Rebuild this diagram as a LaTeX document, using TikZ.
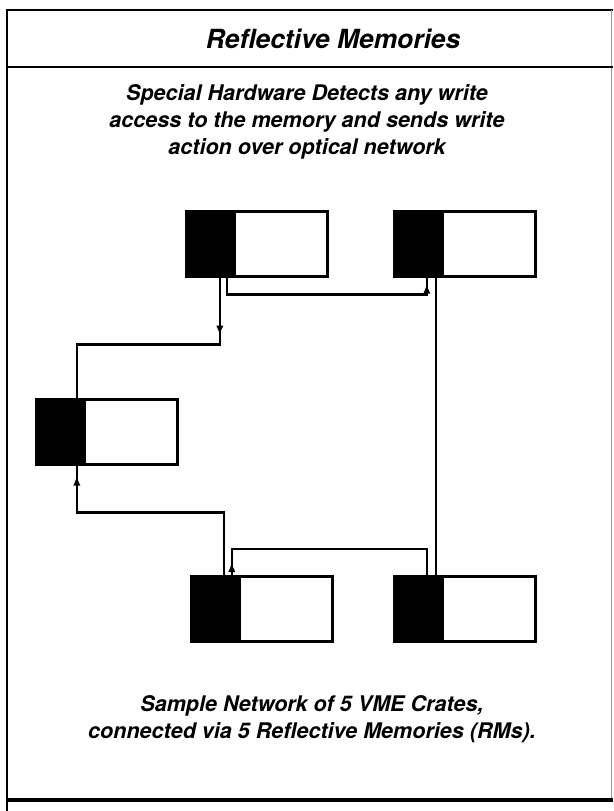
\documentclass[tikz,border=0pt]{standalone}
\usepackage{fontspec}
\setmainfont{TeX Gyre Heros}
\usetikzlibrary{arrows.meta, positioning, decorations.markings}

\begin{document}
\begin{tikzpicture}[x=0.03cm, y=-0.03cm,
        rm/.style={draw, fill=black, line width=2.2pt, inner sep=0pt,
            minimum width=1.38cm, minimum height=1.95cm, anchor=north west},
        vme/.style={draw, fill=white, line width=2.2pt, inner sep=0pt,
            minimum width=2.78cm, minimum height=1.95cm},
        wire/.style={line width=2pt},
        flow/.style={postaction={decorate}, decoration={markings,
            mark=at position #1 with {\arrow{Latex[length=3mm,width=2.2mm]}}}},
        flowback/.style={postaction={decorate}, decoration={markings,
            mark=at position #1 with {\arrowreversed{Latex[length=3mm,width=2.2mm]}}}},
        ttl/.style={font=\fontsize{22.5}{26}\selectfont\bfseries\itshape, align=center},
        txt/.style={font=\fontsize{18.4}{23.2}\selectfont\bfseries\itshape, align=center}
    ]
        \useasboundingbox (0,0) rectangle (613,811);
        % frame
        \draw[line width=1.5pt] (7,811) -- (7,10) -- (613,10);
        \draw[line width=0.8pt, black!40] (611.5,10) -- (611.5,800);
        \draw[line width=2pt] (7,67) -- (613,67);
        \draw[line width=2.8pt] (7,800) -- (613,800);
        \node[ttl] (title) at (333,39) {Reflective Memories};
        \node[txt] (desc) at (307,122) {Special Hardware Detects any write\\access to the memory and sends write\\action over optical network};
        % crates
        \node[rm] (aRM) at (185,210) {};
        \node[vme, right=0pt of aRM] (aVME) {};
        \node[rm] (bRM) at (393,210) {};
        \node[vme, right=0pt of bRM] (bVME) {};
        \node[rm] (cRM) at (35,398) {};
        \node[vme, right=0pt of cRM] (cVME) {};
        \node[rm] (dRM) at (190,575) {};
        \node[vme, right=0pt of dRM] (dVME) {};
        \node[rm] (eRM) at (393,575) {};
        \node[vme, right=0pt of eRM] (eVME) {};
        % optical ring
        \draw[wire, flow=1.74cm] ([xshift=.315cm]aRM.south) -- ++(0,67) -| ([xshift=.525cm]cRM.north);
        \draw[wire, flow=6.84cm] ([xshift=.525cm]aRM.south) -- ++(0,17) -| ([xshift=.285cm]bRM.south);
        \draw[wire] ([xshift=.555cm]bRM.south) -- ([xshift=.555cm]eRM.north);
        \draw[wire, flowback=7.02cm] ([xshift=.285cm]eRM.north) -- ++(0,-26) -| ([xshift=.525cm]dRM.north);
        \draw[wire, flowback=0.3cm] ([xshift=.525cm]cRM.south) -- ++(0,47) -| ([xshift=.285cm]dRM.north);
        \node[txt] (note) at (312,719) {Sample Network of 5 VME Crates,\\connected via 5 Reflective Memories (RMs).};
    \end{tikzpicture}
\end{document}
